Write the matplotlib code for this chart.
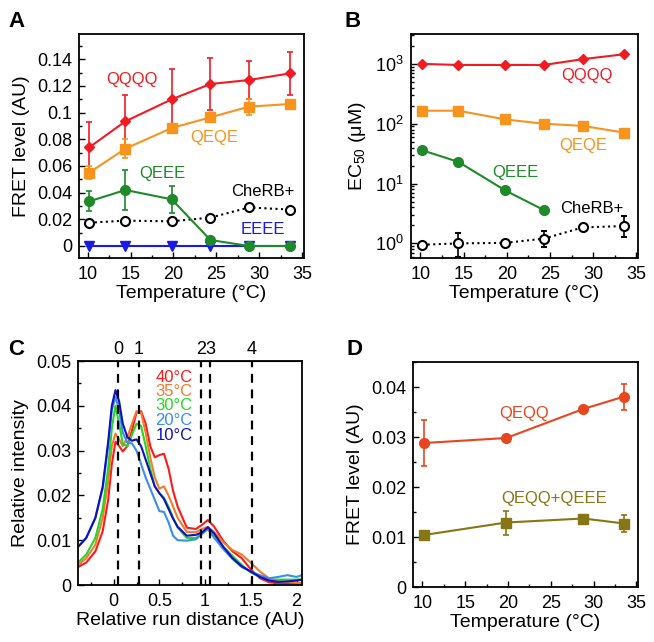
import matplotlib
matplotlib.use("Agg")
import matplotlib.pyplot as plt
from matplotlib.ticker import MultipleLocator, FuncFormatter, LogLocator, NullFormatter

plt.rcParams['font.family'] = ['Liberation Sans', 'DejaVu Sans']
plt.rcParams['mathtext.fontset'] = 'custom'
plt.rcParams['mathtext.rm'] = 'Liberation Sans'
plt.rcParams['mathtext.it'] = 'Liberation Sans:italic'
plt.rcParams['mathtext.bf'] = 'Liberation Sans:bold'

# ---------------- data ----------------
temps = [10.2, 14.4, 19.8, 24.3, 28.8, 33.6]

A_QQQQ = [0.074, 0.0935, 0.110, 0.1215, 0.1245, 0.1295]
A_QQQQ_err = [0.019, 0.020, 0.0225, 0.0195, 0.014, 0.016]
A_QEQE = [0.055, 0.073, 0.0885, 0.0965, 0.1045, 0.1065]
A_QEQE_err = [0.005, 0.007, 0.003, 0.003, 0.006, 0.003]
A_QEEE = [0.0335, 0.042, 0.035, 0.0045, 0.0, 0.0]
A_QEEE_err = [0.0075, 0.015, 0.010, 0.0, 0.0, 0.0]
A_CheRB = [0.0175, 0.019, 0.0185, 0.0213, 0.0289, 0.0273]
A_EEEE = [0.0, 0.0, 0.0, 0.0, 0.0, 0.0]

B_QQQQ = [1000, 960, 960, 960, 1200, 1450]
B_QEQE = [165, 165, 118, 100, 92, 71]
B_QEEE = [36, 23, 7.7, 3.6]
B_CheRB = [0.95, 1.0, 1.02, 1.2, 1.85, 1.95]
B_CheRB_lo = [0.95, 0.59, 1.02, 0.86, 1.85, 1.26]
B_CheRB_hi = [0.95, 1.52, 1.02, 1.62, 1.85, 2.87]

C_x = [-0.39, -0.3, -0.2, -0.12, -0.06, -0.02, 0.02, 0.06, 0.1, 0.15, 0.2, 0.25,
       0.3, 0.35, 0.4, 0.45, 0.5, 0.55, 0.6, 0.65, 0.7, 0.8, 0.9, 0.97, 1.03,
       1.1, 1.2, 1.3, 1.4, 1.5, 1.6, 1.7, 1.8, 1.9, 2.0, 2.06]
C_40 = [0.004, 0.005, 0.0075, 0.012, 0.019, 0.027, 0.032, 0.031, 0.0298, 0.031, 0.0345, 0.0385,
        0.0388, 0.036, 0.031, 0.0285, 0.029, 0.0293, 0.026, 0.021, 0.0175, 0.0128, 0.0125, 0.0135, 0.0145,
        0.013, 0.0098, 0.0075, 0.006, 0.0035, 0.0015, 0.0006, 0.0004, 0.0004, 0.0004, 0.0004]
C_35 = [0.0045, 0.006, 0.009, 0.015, 0.023, 0.031, 0.0338, 0.0325, 0.031, 0.033, 0.036, 0.0388,
        0.0385, 0.034, 0.0285, 0.024, 0.0215, 0.022, 0.020, 0.0175, 0.015, 0.0118, 0.0118, 0.0125, 0.013,
        0.0118, 0.0095, 0.0078, 0.0068, 0.005, 0.003, 0.0015, 0.0008, 0.0007, 0.0005, 0.0005]
C_30 = [0.005, 0.0068, 0.0105, 0.017, 0.026, 0.035, 0.040, 0.036, 0.0315, 0.031, 0.0335, 0.036,
        0.0355, 0.031, 0.026, 0.022, 0.0205, 0.0195, 0.0175, 0.015, 0.0128, 0.0105, 0.0105, 0.0115, 0.0125,
        0.011, 0.0085, 0.0065, 0.0045, 0.0028, 0.0018, 0.0012, 0.0012, 0.0012, 0.0012, 0.0013]
C_20 = [0.0085, 0.0105, 0.015, 0.0215, 0.031, 0.039, 0.042, 0.039, 0.034, 0.0318, 0.0316, 0.030,
        0.027, 0.024, 0.0215, 0.019, 0.0165, 0.0163, 0.014, 0.011, 0.010, 0.0099, 0.0102, 0.0115, 0.0125,
        0.0105, 0.008, 0.0058, 0.004, 0.003, 0.0022, 0.0015, 0.0018, 0.0022, 0.0018, 0.0022]
C_10 = [0.0085, 0.0105, 0.015, 0.022, 0.032, 0.040, 0.0435, 0.041, 0.036, 0.033, 0.0322, 0.0325,
        0.031, 0.028, 0.025, 0.022, 0.0205, 0.0192, 0.017, 0.0148, 0.013, 0.011, 0.0112, 0.0118, 0.0129,
        0.0115, 0.0085, 0.006, 0.0042, 0.003, 0.0018, 0.001, 0.0007, 0.0008, 0.001, 0.0012]
C_bands = [0.048, 0.273, 0.957, 1.056, 1.51]
C_band_labels = ['0', '1', '2', '3', '4']
C_legend = ['40°C', '35°C', '30°C', '20°C', '10°C']

D_temps = [10.2, 19.8, 28.8, 33.6]
D_QEQQ = [0.0288, 0.0298, 0.0356, 0.0381]
D_QEQQ_err = [0.0046, 0.0006, 0.0006, 0.0026]
D_MIX = [0.0104, 0.0129, 0.0137, 0.0127]
D_MIX_err = [0.0006, 0.0024, 0.0004, 0.0017]

# ---------------- styles ----------------
RED = '#f01c24'
ORANGE = '#f7941d'
GREEN = '#1f8a2a'
BLUE = '#1a1ae6'
C_COLORS = ['#ff1a1a', '#f37a2e', '#22d822', '#3a8cf0', '#1010c0']
D_RED = '#e8461e'
D_OLIVE = '#867614'

TICK_FS = 13
LABEL_FS = 14
ANN_FS = 12
LW = 1.5

fig = plt.figure(figsize=(6.54, 6.42), dpi=100)


def px_axes(l, t, r, b):
    W, H = 654.0, 642.0
    return fig.add_axes([l / W, 1 - b / H, (r - l) / W, (b - t) / H])


def style(ax):
    for s in ax.spines.values():
        s.set_linewidth(1.3)
    ax.tick_params(which='both', direction='in', top=False, right=False,
                   labelsize=TICK_FS, width=1.0)
    ax.tick_params(which='major', length=4)
    ax.tick_params(axis='x', which='major', pad=6)
    ax.tick_params(axis='y', which='major', pad=5)
    ax.tick_params(which='minor', length=2.5)


def num_fmt(v, pos):
    if abs(v) < 1e-12:
        return '0'
    s = ('%.3f' % v).rstrip('0').rstrip('.')
    return s

# ---------------- Panel A ----------------
axA = px_axes(79, 34, 304, 258)
style(axA)
ekw = dict(capsize=2.5, elinewidth=1.2, capthick=1.2, lw=LW)
axA.errorbar(temps, A_QQQQ, yerr=A_QQQQ_err, color=RED, marker='D', ms=5.5, **ekw)
axA.errorbar(temps, A_QEQE, yerr=A_QEQE_err, color=ORANGE, marker='s', ms=7, **ekw)
axA.errorbar(temps, A_QEEE, yerr=A_QEEE_err, color=GREEN, marker='o', ms=7, **ekw)
axA.plot(temps, A_CheRB, color='black', ls=':', lw=LW, marker='o', ms=6.5,
         mfc='white', mec='black', mew=1.5)
axA.plot(temps, A_EEEE, color=BLUE, marker='v', ms=6.5, lw=LW)
axA.set_xlim(9.0, 35.2)
axA.set_ylim(-0.009, 0.159)
axA.xaxis.set_major_locator(MultipleLocator(5))
axA.xaxis.set_minor_locator(MultipleLocator(2.5))
axA.yaxis.set_major_locator(MultipleLocator(0.02))
axA.yaxis.set_minor_locator(MultipleLocator(0.01))
axA.yaxis.set_major_formatter(FuncFormatter(num_fmt))
axA.set_xlabel('Temperature (°C)', fontsize=LABEL_FS, labelpad=1)
axA.set_ylabel('FRET level (AU)', fontsize=LABEL_FS, labelpad=5)
axA.text(15.2, 0.125, 'QQQQ', color=RED, fontsize=ANN_FS, ha='center', va='center')
axA.text(24.8, 0.0815, 'QEQE', color=ORANGE, fontsize=ANN_FS, ha='center', va='center')
axA.text(18.7, 0.054, 'QEEE', color=GREEN, fontsize=ANN_FS, ha='center', va='center')
axA.text(30.4, 0.0405, 'CheRB+', color='black', fontsize=ANN_FS, ha='center', va='center')
axA.text(30.4, 0.012, 'EEEE', color=BLUE, fontsize=ANN_FS, ha='center', va='center')
fig.text(8 / 654, 1 - 27 / 642, 'A', fontsize=16, fontweight='bold', ha='left', va='baseline')

# ---------------- Panel B ----------------
axB = px_axes(411, 34, 638, 258)
style(axB)
axB.set_yscale('log')
axB.errorbar(temps, B_QQQQ, yerr=[[20, 0, 0, 0, 0, 0], [20, 0, 0, 0, 0, 0]],
             color=RED, marker='D', ms=5.5, **ekw)
axB.plot(temps, B_QEQE, color=ORANGE, marker='s', ms=7, lw=LW)
axB.plot(temps[:4], B_QEEE, color=GREEN, marker='o', ms=7, lw=LW)
lo = [c - l for c, l in zip(B_CheRB, B_CheRB_lo)]
hi = [h - c for c, h in zip(B_CheRB, B_CheRB_hi)]
axB.errorbar(temps, B_CheRB, yerr=[lo, hi], color='black', ls=':', marker='o', ms=6.5,
             mfc='white', mec='black', mew=1.5, capsize=2.5, elinewidth=1.2, capthick=1.2, lw=LW)
axB.set_xlim(8.9, 35.2)
axB.set_ylim(0.57, 3160)
axB.xaxis.set_major_locator(MultipleLocator(5))
axB.xaxis.set_minor_locator(MultipleLocator(2.5))
axB.yaxis.set_major_locator(LogLocator(base=10, numticks=10))
axB.yaxis.set_minor_locator(LogLocator(base=10, subs=[2, 3, 4, 5, 6, 7, 8, 9], numticks=20))
axB.yaxis.set_minor_formatter(NullFormatter())
axB.set_xlabel('Temperature (°C)', fontsize=LABEL_FS, labelpad=1)
axB.set_ylabel('EC$_{50}$ (μM)', fontsize=LABEL_FS, labelpad=5)
axB.text(29.3, 640, 'QQQQ', color=RED, fontsize=ANN_FS, ha='center', va='center')
axB.text(28.9, 43, 'QEQE', color=ORANGE, fontsize=ANN_FS, ha='center', va='center')
axB.text(21.0, 15.6, 'QEEE', color=GREEN, fontsize=ANN_FS, ha='center', va='center')
axB.text(29.9, 3.8, 'CheRB+', color='black', fontsize=ANN_FS, ha='center', va='center')
fig.text(345 / 654, 1 - 27 / 642, 'B', fontsize=16, fontweight='bold', ha='left', va='baseline')

# ---------------- Panel C ----------------
axC = px_axes(78, 361, 302, 585)
style(axC)
for ys, col in zip([C_40, C_35, C_30, C_20, C_10], C_COLORS):
    axC.plot(C_x, ys, color=col, lw=LW)
for xb in C_bands:
    axC.axvline(xb, color='black', ls=(0, (4, 3)), lw=1.6)
axC.set_xlim(-0.39, 2.06)
axC.set_ylim(0, 0.05)
axC.xaxis.set_major_locator(MultipleLocator(0.5))
axC.xaxis.set_minor_locator(MultipleLocator(0.25))
axC.yaxis.set_major_locator(MultipleLocator(0.01))
axC.yaxis.set_minor_locator(MultipleLocator(0.005))
axC.xaxis.set_major_formatter(FuncFormatter(num_fmt))
axC.yaxis.set_major_formatter(FuncFormatter(num_fmt))
axC.set_xlabel('Relative run distance (AU)', fontsize=LABEL_FS, labelpad=1)
axC.set_ylabel('Relative intensity', fontsize=LABEL_FS, labelpad=5)
secC = axC.secondary_xaxis('top')
secC.set_xticks(C_bands, C_band_labels)
secC.tick_params(length=0, labelsize=TICK_FS, pad=2)
leg_y = [0.0464, 0.0433, 0.0400, 0.0367, 0.0334]
for txt, col, yy in zip(C_legend, C_COLORS, leg_y):
    axC.text(0.455, yy, txt, color=col, fontsize=ANN_FS, ha='left', va='center')
fig.text(8 / 654, 1 - 355 / 642, 'C', fontsize=16, fontweight='bold', ha='left', va='baseline')

# ---------------- Panel D ----------------
axD = px_axes(413, 362, 638, 587)
style(axD)
axD.errorbar(D_temps, D_QEQQ, yerr=D_QEQQ_err, color=D_RED, marker='o', ms=7, **ekw)
axD.errorbar(D_temps, D_MIX, yerr=D_MIX_err, color=D_OLIVE, marker='s', ms=7, **ekw)
axD.set_xlim(8.9, 35.2)
axD.set_ylim(0, 0.045)
axD.xaxis.set_major_locator(MultipleLocator(5))
axD.xaxis.set_minor_locator(MultipleLocator(2.5))
axD.yaxis.set_major_locator(MultipleLocator(0.01))
axD.yaxis.set_minor_locator(MultipleLocator(0.005))
axD.yaxis.set_major_formatter(FuncFormatter(num_fmt))
axD.set_xlabel('Temperature (°C)', fontsize=LABEL_FS, labelpad=1)
axD.set_ylabel('FRET level (AU)', fontsize=LABEL_FS, labelpad=5)
axD.text(21.9, 0.0347, 'QEQQ', color=D_RED, fontsize=ANN_FS, ha='center', va='center')
axD.text(25.4, 0.0177, 'QEQQ+QEEE', color=D_OLIVE, fontsize=ANN_FS, ha='center', va='center')
fig.text(347 / 654, 1 - 355 / 642, 'D', fontsize=16, fontweight='bold', ha='left', va='baseline')

fig.savefig('out.png', dpi=100)
